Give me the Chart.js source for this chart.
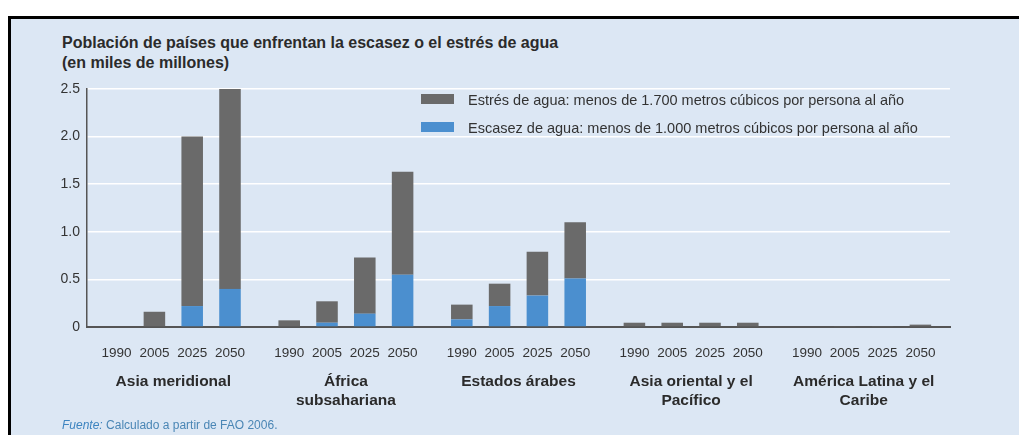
<!DOCTYPE html>
<html>
<head>
<meta charset="utf-8">
<script src="https://cdn.jsdelivr.net/npm/chart.js@4"></script>
<style>
    html, body { margin: 0; padding: 0; background: #fff; }
    body { width: 1019px; height: 435px; position: relative; overflow: hidden; }
    .panel {
        position: absolute; left: 8px; top: 16px; width: 1011px; height: 419px;
        background: #dce7f4; border-top: 3px solid #000; border-left: 3px solid #000;
        box-sizing: border-box;
    }
    .titel {
        position: absolute; left: 62px; top: 33px; color: #2b2b2b;
        font-family: "Liberation Sans", sans-serif;
        font-size: 16px; font-weight: bold; line-height: 20px;
    }
    .legende {
        position: absolute; left: 421px; top: 86px; color: #333;
        font-family: "Liberation Sans", sans-serif;
        font-size: 14.5px; line-height: 28px;
    }
    .legende span.box { display: inline-block; width: 33px; height: 10px; margin-right: 14px; vertical-align: 1px; }
    .quelle {
        position: absolute; left: 62px; top: 418px; color: #4a86b5;
        font-family: "Liberation Sans", sans-serif; font-size: 12px;
    }
    .quelle i { color: #3d84c0; }
    #chartBox { position: absolute; left: 0; top: 70px; width: 1019px; height: 365px; }
</style>
</head>
<body>
<div class="panel"></div>
<div class="titel">Población de países que enfrentan la escasez o el estrés de agua<br>(en miles de millones)</div>
<div id="chartBox"><canvas id="wasserChart"></canvas></div>
<div class="legende" id="legende"></div>
<div class="quelle"><i>Fuente:</i> Calculado a partir de FAO 2006.</div>

<script>
// Daten
const regionen = [
    ['Asia meridional'],
    ['África', 'subsahariana'],
    ['Estados árabes'],
    ['Asia oriental y el', 'Pacífico'],
    ['América Latina y el', 'Caribe']
];
const jahre = ['1990', '2005', '2025', '2050'];

// Gesamthöhe der Säule (Estrés de agua, < 1.700 m3)
const estres1990 = [0, 0.07, 0.235, 0.045, 0];
const estres2005 = [0.16, 0.27, 0.455, 0.045, 0.01];
const estres2025 = [2.0, 0.73, 0.79, 0.045, 0.01];
const estres2050 = [2.5, 1.63, 1.1, 0.045, 0.025];

// Blauer Anteil (Escasez de agua, < 1.000 m3)
const escasez1990 = [0, 0, 0.08, 0, 0];
const escasez2005 = [0, 0.045, 0.22, 0, 0];
const escasez2025 = [0.22, 0.14, 0.33, 0, 0];
const escasez2050 = [0.4, 0.55, 0.51, 0, 0];

const yTicks = [0, 0.5, 1.0, 1.5, 2.0, 2.5];

const legendTexte = [
    'Estrés de agua: menos de 1.700 metros cúbicos por persona al año',
    'Escasez de agua: menos de 1.000 metros cúbicos por persona al año'
];

const farbeGrau = '#6a6a6a';
const farbeBlau = '#4b8fcf';

const estres = [estres1990, estres2005, estres2025, estres2050];
const escasez = [escasez1990, escasez2005, escasez2025, escasez2050];

// Datasets: pro Jahr ein Stack (blau unten, grau oben)
const datasets = [];
jahre.forEach((jahr, j) => {
    datasets.push({
        label: legendTexte[1],
        data: escasez[j],
        backgroundColor: farbeBlau,
        stack: jahr,
        barPercentage: 0.57,
        categoryPercentage: 0.876
    });
    datasets.push({
        label: legendTexte[0],
        data: estres[j].map((v, i) => Math.max(0, v - escasez[j][i])),
        backgroundColor: farbeGrau,
        stack: jahr,
        barPercentage: 0.57,
        categoryPercentage: 0.876
    });
});

// Jahreszahlen unter jeder Säule
const jahrLabels = {
    id: 'jahrLabels',
    afterDatasetsDraw(chart) {
        const ctx = chart.ctx;
        ctx.save();
        ctx.font = '13.5px "Liberation Sans", sans-serif';
        ctx.fillStyle = '#333';
        ctx.textAlign = 'center';
        ctx.textBaseline = 'middle';
        jahre.forEach((jahr, j) => {
            const meta = chart.getDatasetMeta(j * 2 + 1);
            meta.data.forEach(bar => {
                ctx.fillText(jahr, bar.x, chart.chartArea.bottom + 26);
            });
        });
        ctx.restore();
    }
};

function initLegende() {
    const el = document.getElementById('legende');
    el.innerHTML = `
        <div><span class="box" style="background:${farbeGrau}"></span>${legendTexte[0]}</div>
        <div><span class="box" style="background:${farbeBlau}"></span>${legendTexte[1]}</div>
    `;
}

function initChart() {
    const ctx = document.getElementById('wasserChart');
    new Chart(ctx, {
        type: 'bar',
        data: {
            labels: regionen,
            datasets: datasets
        },
        options: {
            responsive: true,
            maintainAspectRatio: false,
            animation: false,
            layout: {
                padding: { top: 19, right: 69, left: 0, bottom: 0 }
            },
            plugins: {
                legend: { display: false },
                tooltip: { enabled: false }
            },
            scales: {
                x: {
                    stacked: true,
                    grid: { color: 'transparent', drawTicks: false },
                    border: { color: '#555', width: 2 },
                    afterFit: scale => { scale.height = 108; },
                    ticks: {
                        padding: 45,
                        color: '#2b2b2b',
                        font: { family: '"Liberation Sans", sans-serif', size: 15.5, weight: 'bold', lineHeight: 1.22 }
                    }
                },
                y: {
                    stacked: true,
                    min: 0,
                    max: 2.5,
                    afterFit: scale => { scale.width = 87; },
                    afterBuildTicks: scale => { scale.ticks = yTicks.map(v => ({ value: v })); },
                    grid: { color: '#ffffff', lineWidth: 1.5, drawTicks: false },
                    border: { color: '#555', width: 1.5 },
                    ticks: {
                        padding: 7,
                        color: '#333',
                        font: { family: '"Liberation Sans", sans-serif', size: 14 },
                        callback: v => v === 0 ? '0' : v.toFixed(1)
                    }
                }
            }
        },
        plugins: [jahrLabels]
    });
}

initLegende();
initChart();
</script>
</body>
</html>
